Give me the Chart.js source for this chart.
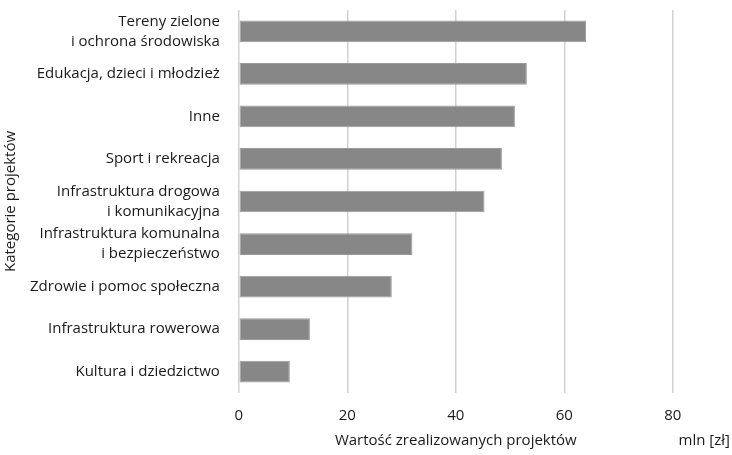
<!DOCTYPE html>
<html lang="pl">
<head>
<meta charset="utf-8">
<script src="https://cdn.jsdelivr.net/npm/chart.js@4/dist/chart.umd.min.js"></script>
<style>
  html, body { margin: 0; padding: 0; background: #fff; }
  #wrap { width: 732px; height: 455px; }
</style>
</head>
<body>
<div id="wrap"><canvas id="chart"></canvas></div>
<script>
// Kategorie projektów (etykiety wielowierszowe jako tablice)
const categories = [
  ["Tereny zielone", "i ochrona środowiska"],
  "Edukacja, dzieci i młodzież",
  "Inne",
  "Sport i rekreacja",
  ["Infrastruktura drogowa", "i komunikacyjna"],
  ["Infrastruktura komunalna", "i bezpieczeństwo"],
  "Zdrowie i pomoc społeczna",
  "Infrastruktura rowerowa",
  "Kultura i dziedzictwo"
];

// Wartość zrealizowanych projektów, mln zł
const values = [64.0, 53.1, 50.9, 48.5, 45.3, 32.0, 28.2, 13.1, 9.4];

// Podziałka osi wartości
const xTicks = [0, 20, 40, 60, 80];
const xMax = 90;

const xTitle = "Wartość zrealizowanych projektów";
const unitLabel = "mln [zł]";
const yTitle = "Kategorie projektów";

const FONT = "Open Sans";
const FSIZE = 15;
const TEXT = "#1a1a1a";

// Podpisy osi X rysowane pod wykresem
const bottomTexts = {
  id: "bottomTexts",
  afterDraw(chart) {
    const ctx = chart.ctx;
    const x = chart.scales.x;
    ctx.save();
    ctx.fillStyle = TEXT;
    ctx.font = FSIZE + "px '" + FONT + "'";
    ctx.textBaseline = "middle";
    ctx.textAlign = "center";
    ctx.fillText(xTitle, x.getPixelForValue(40), 441);
    ctx.textAlign = "right";
    ctx.fillText(unitLabel, chart.width - 2, 441);
    ctx.restore();
  }
};

new Chart(document.getElementById("chart"), {
  type: "bar",
  data: {
    labels: categories,
    datasets: [{
      data: values,
      backgroundColor: "#878787",
      borderColor: "#9a9a9a",
      borderWidth: 1,
      borderSkipped: false,
      barPercentage: 0.51,
      categoryPercentage: 1
    }]
  },
  plugins: [bottomTexts],
  options: {
    indexAxis: "y",
    responsive: true,
    maintainAspectRatio: false,
    animation: false,
    layout: { padding: { top: 10, right: 5, bottom: 16, left: 0 } },
    plugins: {
      legend: { display: false },
      tooltip: { enabled: false }
    },
    scales: {
      x: {
        min: 0,
        max: xMax,
        afterBuildTicks(axis) {
          axis.ticks = xTicks.map(v => ({ value: v }));
        },
        grid: { color: "#d2d2d2", lineWidth: 1.5, drawTicks: false },
        border: { display: false },
        ticks: {
          padding: 14,
          color: TEXT,
          font: { family: FONT, size: FSIZE }
        }
      },
      y: {
        afterFit(axis) {
          axis.paddingTop = 0;
          axis.paddingBottom = 0;
          axis.width -= 9;
        },
        grid: { display: false, drawTicks: false },
        border: { display: false },
        ticks: {
          autoSkip: false,
          padding: 19,
          color: TEXT,
          font: { family: FONT, size: FSIZE, lineHeight: 1.33 }
        },
        title: {
          display: true,
          text: yTitle,
          color: TEXT,
          font: { family: FONT, size: FSIZE },
          padding: { top: 2, bottom: 0 }
        }
      }
    }
  }
});
</script>
</body>
</html>
